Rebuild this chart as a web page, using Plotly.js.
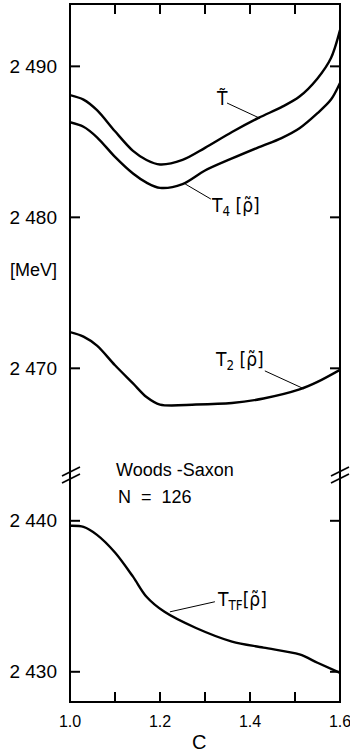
<!DOCTYPE html>
<html>
<head>
<meta charset="utf-8">
<script src="https://cdn.plot.ly/plotly-3.0.1.min.js"></script>
<style>html,body{margin:0;padding:0;background:#fff;}#chart{width:350px;height:755px;}</style>
</head>
<body>
<div id="chart"></div>
<script>
// C values and energies [MeV]
var cUpper = [1.00,1.03,1.06,1.10,1.14,1.17,1.20,1.25,1.30,1.36,1.42,1.47,1.51,1.55,1.58,1.60];
var tTilde = [2488.1,2487.8,2487.1,2485.7,2484.4,2483.8,2483.5,2483.8,2484.6,2485.65,2486.6,2487.3,2488.0,2489.2,2490.55,2492.4];
var t4 = [2486.3,2486.0,2485.3,2484.0,2482.9,2482.3,2481.95,2482.2,2483.1,2483.9,2484.65,2485.25,2485.9,2486.9,2487.8,2488.9];
var cT2 = [1.00,1.03,1.06,1.10,1.14,1.17,1.20,1.28,1.36,1.43,1.51,1.55,1.60];
var t2 = [2472.4,2472.1,2471.5,2470.2,2469.0,2468.1,2467.6,2467.6,2467.7,2468.0,2468.6,2469.1,2469.9];
var cTF = [1.00,1.03,1.06,1.10,1.14,1.17,1.21,1.28,1.36,1.43,1.51,1.55,1.60];
var tTF = [2439.67,2439.6,2439.07,2437.9,2436.3,2434.97,2433.97,2432.9,2432.0,2431.6,2431.15,2430.6,2429.93];

var xTickVals = [1.0,1.1,1.2,1.3,1.4,1.5,1.6];
var xTickText = ["1.0","","1.2","","1.4","","1.6"];
var yUpperTicks = [2470,2480,2490];
var yUpperText = ["2 470","2 480","2 490"];
var yLowerTicks = [2430,2440];
var yLowerText = ["2 430","2 440"];

var FONT = "Liberation Sans Narrow, Liberation Sans, Arial, sans-serif";
var LFONT = "DejaVu Sans Condensed, DejaVu Sans, sans-serif";
var lineStyle = {color:"#000", width:2.4, shape:"spline", smoothing:0.9};

var W = 350, H = 755, ML = 70, MR = 10, MT = 4, MB = 53;
var PW = W - ML - MR, PH = H - MT - MB;
function px(X){return (X-ML)/PW;}
function py(Y){return (H-MB-Y)/PH;}

var X_RANGE = [1.0,1.6];
var YL_RANGE = [2428.0,2442.7];
var YU_RANGE = [2462.6,2494.13];
var YL_DOM = [0,0.318], YU_DOM = [0.318,1];
var TL = 10; // tick length in px

// tick lengths converted into data units of each axis
var dxT = TL * (X_RANGE[1]-X_RANGE[0]) / PW;
var dyL = TL * (YL_RANGE[1]-YL_RANGE[0]) / (PH*(YL_DOM[1]-YL_DOM[0]));
var dyU = TL * (YU_RANGE[1]-YU_RANGE[0]) / (PH*(YU_DOM[1]-YU_DOM[0]));
var tickLine = {color:"#000", width:2};

function yTickTrace(vals, yax){
  var xs = [], ys = [];
  vals.forEach(function(v){
    xs.push(X_RANGE[0], X_RANGE[0]+dxT, null, X_RANGE[1], X_RANGE[1]-dxT, null);
    ys.push(v, v, null, v, v, null);
  });
  return {x:xs, y:ys, xaxis:"x", yaxis:yax, mode:"lines", line:tickLine, cliponaxis:false, connectgaps:false};
}
function xTickTraces(){
  var xs = [], ys = [], xs2 = [], ys2 = [];
  xTickVals.forEach(function(v){
    xs.push(v, v, null); ys.push(YL_RANGE[0], YL_RANGE[0]+dyL, null);
    xs2.push(v, v, null); ys2.push(YU_RANGE[1], YU_RANGE[1]-dyU, null);
  });
  return [
    {x:xs, y:ys, xaxis:"x", yaxis:"y", mode:"lines", line:tickLine, cliponaxis:false, connectgaps:false},
    {x:xs2, y:ys2, xaxis:"x", yaxis:"y2", mode:"lines", line:tickLine, cliponaxis:false, connectgaps:false}
  ];
}

var traces = [
  {x:cUpper, y:tTilde, xaxis:"x", yaxis:"y2", mode:"lines", line:lineStyle},
  {x:cUpper, y:t4, xaxis:"x", yaxis:"y2", mode:"lines", line:lineStyle},
  {x:cT2, y:t2, xaxis:"x", yaxis:"y2", mode:"lines", line:lineStyle},
  {x:cTF, y:tTF, xaxis:"x", yaxis:"y", mode:"lines", line:lineStyle},
  yTickTrace(yLowerTicks, "y"),
  yTickTrace(yUpperTicks, "y2")
].concat(xTickTraces());

var tickFont = {family:FONT, size:19, color:"#000"};
var labFont = {family:FONT, size:18, color:"#000"};
var curveFont = {family:LFONT, size:19, color:"#000"};

var shapes = [
  {type:"rect", xref:"paper", yref:"paper", x0:0, x1:1, y0:0, y1:1, line:{color:"#000", width:2}},
  // axis break marks
  {type:"line", xref:"paper", yref:"paper", x0:px(62), y0:py(476), x1:px(80), y1:py(467), line:{color:"#000", width:1.6}},
  {type:"line", xref:"paper", yref:"paper", x0:px(62), y0:py(483), x1:px(80), y1:py(474), line:{color:"#000", width:1.6}},
  {type:"line", xref:"paper", yref:"paper", x0:px(331), y0:py(476), x1:px(349), y1:py(467), line:{color:"#000", width:1.6}},
  {type:"line", xref:"paper", yref:"paper", x0:px(331), y0:py(483), x1:px(349), y1:py(474), line:{color:"#000", width:1.6}},
  // leader lines
  {type:"line", xref:"x", yref:"y2", x0:1.349, y0:2487.57, x1:1.422, y1:2486.56, line:{color:"#000", width:1}},
  {type:"line", xref:"x", yref:"y2", x0:1.256, y0:2482.21, x1:1.313, y1:2481.21, line:{color:"#000", width:1}},
  {type:"line", xref:"x", yref:"y2", x0:1.433, y0:2469.83, x1:1.52, y1:2468.64, line:{color:"#000", width:1}},
  {type:"line", xref:"x", yref:"y", x0:1.322, y0:2434.64, x1:1.222, y1:2433.97, line:{color:"#000", width:1}}
];

var base = {showgrid:false, zeroline:false, showline:false, ticks:""};

var layout = {
  width:W, height:H,
  margin:{l:ML, r:MR, t:MT, b:MB},
  paper_bgcolor:"#fff", plot_bgcolor:"#fff",
  showlegend:false,
  xaxis:Object.assign({}, base, {range:X_RANGE, domain:[0,1], anchor:"y", tickmode:"array", tickvals:xTickVals, ticktext:xTickText,
         tickfont:{family:FONT, size:16, color:"#000"}, ticklabelstandoff:8, ticklabeloverflow:"allow"}),
  yaxis:Object.assign({}, base, {domain:YL_DOM, range:YL_RANGE, anchor:"x", tickmode:"array", tickvals:yLowerTicks, ticktext:yLowerText,
         tickfont:tickFont, ticklabelstandoff:12}),
  yaxis2:Object.assign({}, base, {domain:YU_DOM, range:YU_RANGE, anchor:"x", tickmode:"array", tickvals:yUpperTicks, ticktext:yUpperText,
          tickfont:tickFont, ticklabelstandoff:12}),
  shapes:shapes,
  annotations:[
    {xref:"paper", yref:"paper", x:px(33), y:py(270), text:"[MeV]", showarrow:false, font:labFont, xanchor:"center", yanchor:"middle"},
    {xref:"paper", yref:"paper", x:px(199), y:py(742), text:"C", showarrow:false, font:{family:FONT, size:20, color:"#000"}, xanchor:"center", yanchor:"middle"},
    {xref:"paper", yref:"paper", x:px(114), y:py(470), text:"Woods -Saxon", showarrow:false, font:labFont, xanchor:"left", yanchor:"middle"},
    {xref:"paper", yref:"paper", x:px(116), y:py(497), text:"N  =  126", showarrow:false, font:labFont, xanchor:"left", yanchor:"middle"},
    {xref:"x", yref:"y2", x:1.338, y:2487.9, text:"T\u0303", showarrow:false, font:curveFont, xanchor:"center", yanchor:"middle"},
    {xref:"x", yref:"y2", x:1.309, y:2480.7, text:"T<sub>4</sub> [\u03c1\u0303]", showarrow:false, font:curveFont, xanchor:"left", yanchor:"middle"},
    {xref:"x", yref:"y2", x:1.318, y:2470.5, text:"T<sub>2</sub> [\u03c1\u0303]", showarrow:false, font:curveFont, xanchor:"left", yanchor:"middle"},
    {xref:"x", yref:"y", x:1.322, y:2434.75, text:"T<sub>TF</sub>[\u03c1\u0303]", showarrow:false, font:curveFont, xanchor:"left", yanchor:"middle"}
  ]
};

Plotly.newPlot("chart", traces, layout, {displayModeBar:false, staticPlot:true});
</script>
</body>
</html>
